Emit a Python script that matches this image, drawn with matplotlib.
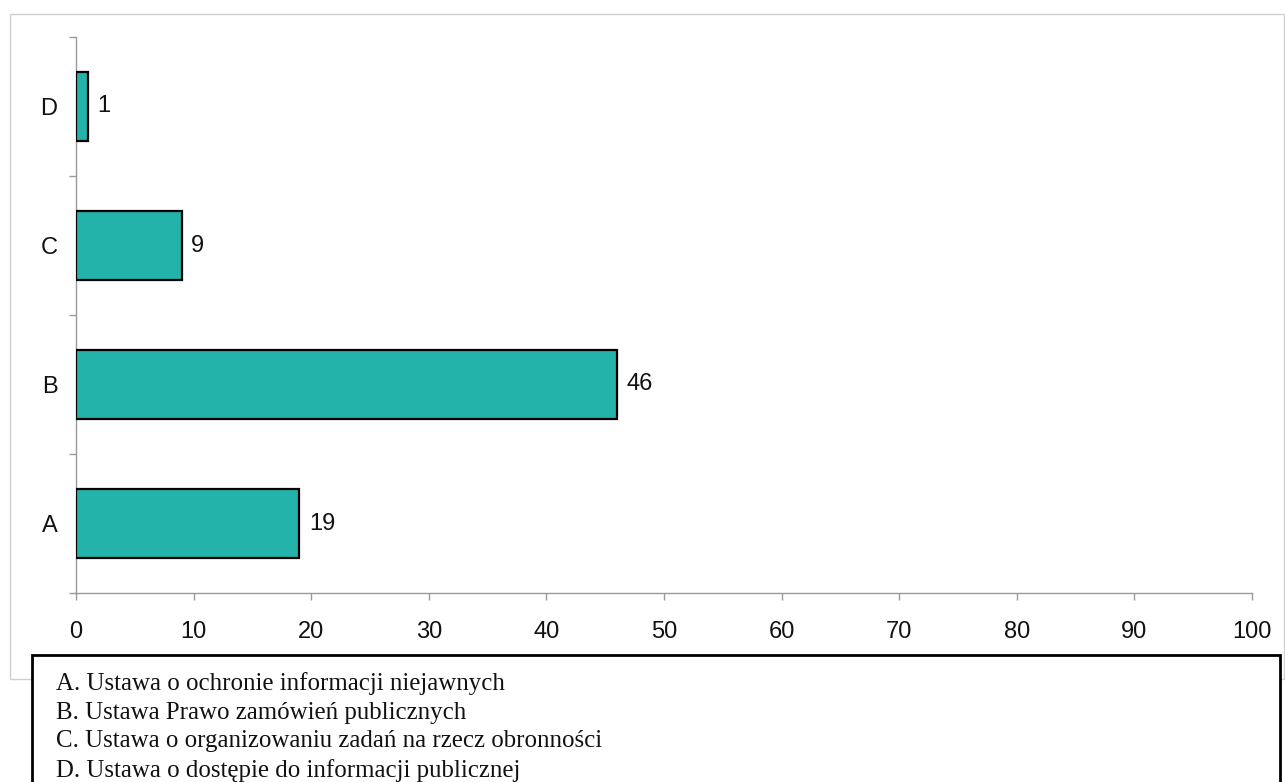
import matplotlib
matplotlib.use("Agg")
import matplotlib.pyplot as plt
from matplotlib.patches import Rectangle

categories = ["A", "B", "C", "D"]
values = [19, 46, 9, 1]
x_ticks = [0, 10, 20, 30, 40, 50, 60, 70, 80, 90, 100]
legend_lines = [
    "A. Ustawa o ochronie informacji niejawnych",
    "B. Ustawa Prawo zamówień publicznych",
    "C. Ustawa o organizowaniu zadań na rzecz obronności",
    "D. Ustawa o dostępie do informacji publicznej",
]

W, H = 1285, 782
fig = plt.figure(figsize=(W / 100, H / 100), dpi=100)
fig.patch.set_facecolor("white")

sans = ["Liberation Sans", "DejaVu Sans"]
serif = ["Liberation Serif", "DejaVu Serif"]

# light outer frame of the chart area
fig.add_artist(Rectangle((10 / W, 1 - 679 / H), (1284 - 10) / W, (679 - 14) / H,
                         transform=fig.transFigure, fill=False,
                         edgecolor="#cfcfcf", linewidth=1.0))

ax = fig.add_axes([76 / W, 1 - 593 / H, (1252 - 76) / W, (593 - 37) / H])
ypos = list(range(len(categories)))
ax.barh(ypos, values, height=0.5, color="#24b3aa", edgecolor="black",
        linewidth=1.6, zorder=3)
for y, v in zip(ypos, values):
    ax.text(v + 0.8, y, f"{v}", va="center", ha="left",
            fontsize=17, family=sans, color="#111111")

ax.set_xlim(0, 100)
ax.set_ylim(-0.5, len(categories) - 0.5)
ax.set_xticks(x_ticks)
ax.set_xticklabels([str(t) for t in x_ticks], family=sans, fontsize=17)

# category boundaries carry the tick marks; labels sit at the centres
ax.set_yticks([i - 0.5 for i in range(len(categories) + 1)])
ax.set_yticklabels([])
ax.set_yticks(ypos, minor=True)
ax.set_yticklabels(categories, minor=True, family=sans, fontsize=17)
ax.tick_params(axis="y", which="minor", length=0, pad=13.5,
               labelcolor="#111111")
ax.tick_params(axis="y", which="major", length=5, color="#9a9a9a", width=1)
ax.tick_params(axis="x", length=5, color="#9a9a9a", width=1, pad=15,
               labelcolor="#111111")

for side in ("top", "right"):
    ax.spines[side].set_visible(False)
for side in ("left", "bottom"):
    ax.spines[side].set_color("#9a9a9a")
    ax.spines[side].set_linewidth(1.0)
ax.set_facecolor("none")

# key to the category letters
fig.add_artist(Rectangle((32 / W, -0.02), (1280 - 32) / W, 0.02 + (H - 655) / H,
                         transform=fig.transFigure, facecolor="white",
                         edgecolor="black", linewidth=2.0, zorder=5))
for i, line in enumerate(legend_lines):
    fig.text(56 / W, 1 - (684 + i * 28.7) / H, line, family=serif,
             fontsize=17.9, va="center", ha="left", color="#111111", zorder=6)

fig.savefig("out.png", dpi=100, facecolor="white")
